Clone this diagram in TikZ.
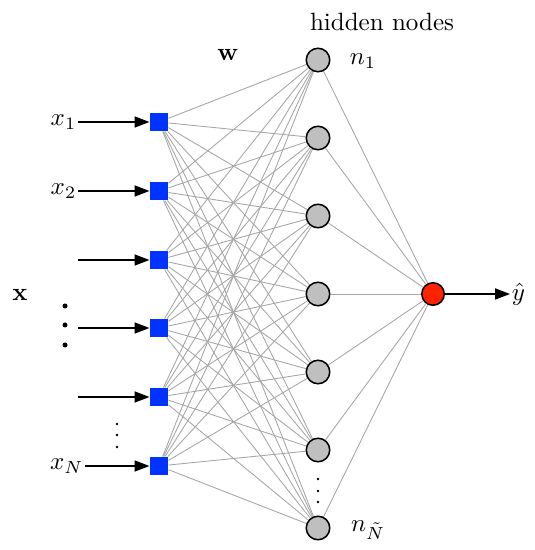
\documentclass[tikz,border=0pt]{standalone}
\usepackage{amsmath,amssymb}
\usetikzlibrary{arrows.meta,backgrounds}

\definecolor{inblue}{RGB}{0,51,255}
\definecolor{outred}{RGB}{255,34,0}

\begin{document}
\begin{tikzpicture}[
  x=0.4pt,y=-0.4pt,
  input/.style={fill=inblue,minimum size=7.2pt,inner sep=0pt},
  hidden/.style={circle,draw,line width=0.6pt,fill=black!25,minimum size=9.4pt,inner sep=0pt},
  output/.style={circle,draw,line width=0.6pt,fill=outred,minimum size=9pt,inner sep=0pt},
  weight/.style={draw=black!35,line width=0.35pt},
  feed/.style={draw,line width=0.7pt,-{Triangle[length=6pt,width=4.4pt]}},
  lbl/.style={inner sep=0.5pt}
]
\useasboundingbox (0,0) rectangle (534,550);

% layers
\foreach \k/\y in {1/122,2/191,3/260,4/328,5/397,6/466}
  \node[input] (i\k) at (159,\y) {};
\foreach \k in {1,...,7}
  \node[hidden] (h\k) at (318,{60+78*(\k-1)}) {};
\node[output] (out) at (433,294) {};

% weights
\begin{scope}[on background layer]
  \foreach \i in {1,...,6}
    \foreach \h in {1,...,7}
      \draw[weight] (i\i) -- (h\h);
  \foreach \h in {1,...,7}
    \draw[weight] (h\h) -- (out);
\end{scope}

% inputs
\node[lbl,anchor=east] (x1) at (78,122) {$x_1$};
\node[lbl,anchor=east] (x2) at (78,191) {$x_2$};
\node[lbl,anchor=east] (xN) at (85,466) {$x_N$};
\coordinate (c3) at (78,260);
\coordinate (c4) at (78,328);
\coordinate (c5) at (78,397);
\draw[feed] (x1) -- (i1);
\draw[feed] (x2) -- (i2);
\draw[feed] (c3) -- (i3);
\draw[feed] (c4) -- (i4);
\draw[feed] (c5) -- (i5);
\draw[feed] (xN) -- (i6);

% output
\node[lbl,anchor=west] (yhat) at (510,294) {$\hat{y}$};
\draw[feed] (out) -- (yhat);

% labels
\node (xvec) at (20,295) {$\mathbf{x}$};
\node (wmat) at (228,55) {$\mathbf{w}$};
\node (hidlbl) at (382,22) {hidden nodes};
\node (n1) at (363,61) {$n_1$};
\node (nN) at (368,530) {$n_{\tilde N}$};

% dots
\foreach \y in {306,325,345}
  \fill (65,\y) circle (1pt);
\foreach \y in {424,435,447}
  \fill (117,\y) circle (0.55pt);
\foreach \y in {479,491,502}
  \fill (318,\y) circle (0.55pt);
\end{tikzpicture}
\end{document}
